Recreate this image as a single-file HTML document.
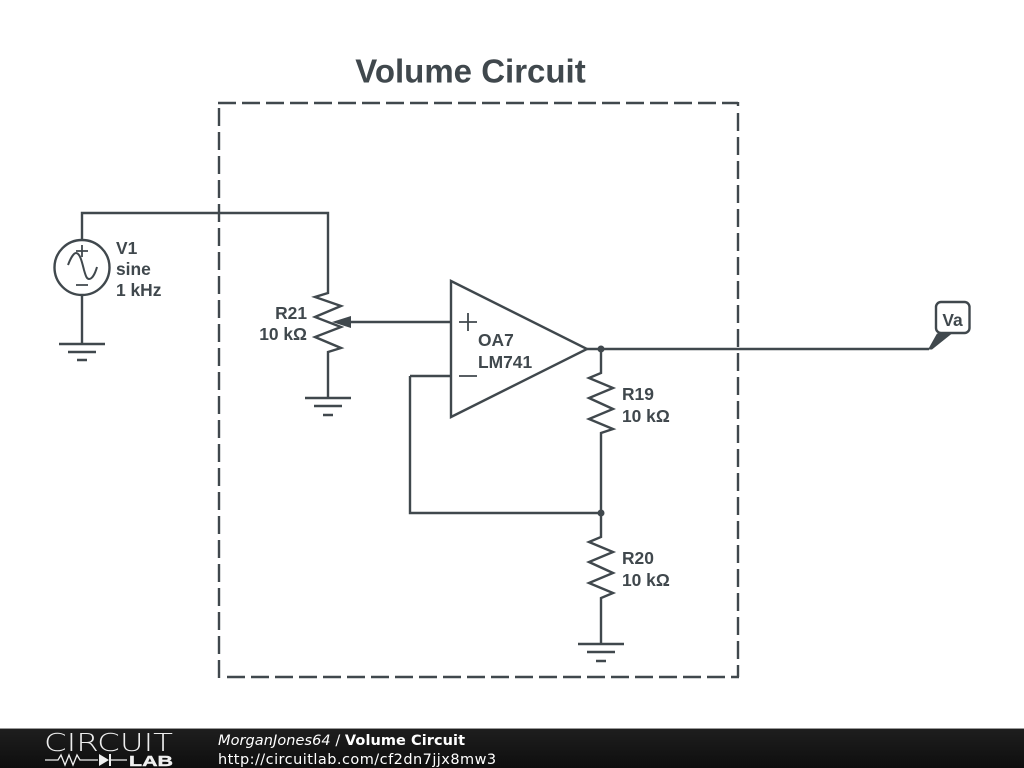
<!DOCTYPE html>
<html>
<head>
<meta charset="utf-8">
<style>
html,body{margin:0;padding:0;background:#fff;width:1024px;height:768px;overflow:hidden}
svg{display:block}
.l{font-family:"Liberation Sans",sans-serif;font-weight:bold;font-size:17.4px;fill:#40484d}
</style>
</head>
<body>
<svg width="1024" height="768" viewBox="0 0 1024 768" xmlns="http://www.w3.org/2000/svg">
<defs>
<linearGradient id="band" x1="0" y1="0" x2="0" y2="1">
<stop offset="0" stop-color="#1e1e1e"/>
<stop offset="1" stop-color="#0e0e0e"/>
</linearGradient>
</defs>
<rect width="1024" height="768" fill="#fff"/>
<text x="470.5" y="82.500" text-anchor="middle" font-family="Liberation Sans,sans-serif" font-weight="bold" font-size="33" fill="#40484d">Volume Circuit</text>
<g fill="none" stroke="#40484d" stroke-width="2.400">
<!-- Dashed frame, drawn side by side to match the dash phase on each edge -->
<path d="M218 103H738" stroke-dasharray="18 6"/>
<path d="M738 102V106"/>
<path d="M738 113V677" stroke-dasharray="18 6"/>
<path d="M739 677H226" stroke-dasharray="18 6" stroke-dashoffset="10"/>
<path d="M219 678V107" stroke-dasharray="18 6"/>
<!-- V1 -->
<path d="M328 291V213H82V240"/>
<circle cx="82" cy="267.500" r="27.500"/>
<path d="M82 295V344"/>
<path d="M59 344H105M68 352H96M77 360H87"/>
<path d="M76 251H88M82 245V257M76 285H88" stroke-width="1.800"/>
<path d="M68 265C71 257 74 253 76 253C80 253 82 262 84 270C86 277 87 279 89 279C92 279 95 274 97 267" stroke-width="2"/>
<!-- R21 -->
<path d="M328 291V293L315 297L341 306L315 317L341 327L315 337L341 348L328 352V398"/>
<path d="M305 398H351M314 406H342M323 415H333"/>
<path d="M345 322H450"/>
<!-- Opamp -->
<path d="M451 281L587 349L451 417Z"/>
<path d="M410 376H451M410 376V513H601"/>
<path d="M459 322H477M468 313V331M459 376H477" stroke-width="1.800"/>
<!-- Output -->
<path d="M587 349H929"/>
<!-- R19 -->
<path d="M601 349V373L589 378L613 388L589 398L613 409L589 419L613 429L601 433V513"/>
<!-- R20 -->
<path d="M601 513V537L589 542L613 552L589 562L613 573L589 583L613 593L601 598V644"/>
<path d="M578 644H624M587 652H615M596 661H606"/>
<!-- Va -->
<rect x="936" y="302" width="33.500" height="31" rx="5"/>
</g>
<path d="M332 322L351 316L351 328Z" fill="#40484d"/>
<path d="M928 349.500L937 333.500H952L932 349.500Z" fill="#40484d"/>
<circle cx="601" cy="349" r="3.500" fill="#40484d"/>
<circle cx="601" cy="513" r="3.500" fill="#40484d"/>
<text class="l" x="116" y="254">V1</text>
<text class="l" x="116" y="275">sine</text>
<text class="l" x="116" y="296">1 kHz</text>
<text class="l" x="307" y="319" text-anchor="end">R21</text>
<text class="l" x="307" y="340" text-anchor="end">10 kΩ</text>
<text class="l" x="478" y="346">OA7</text>
<text class="l" x="478" y="368">LM741</text>
<text class="l" x="622" y="400">R19</text>
<text class="l" x="622" y="422">10 kΩ</text>
<text class="l" x="622" y="564">R20</text>
<text class="l" x="622" y="586">10 kΩ</text>
<text class="l" x="952.500" y="326" text-anchor="middle">Va</text>
<!-- footer -->
<rect x="0" y="729" width="1024" height="39" fill="url(#band)"/>
<rect x="0" y="728" width="1024" height="1" fill="#999"/>
<text x="44" y="751" font-family="DejaVu Sans ExtraLight,DejaVu Sans,sans-serif" font-weight="200" font-size="25" fill="#eeeeee" textLength="129" lengthAdjust="spacingAndGlyphs">CIRCUIT</text>
<path d="M45 760H58L61 755L65 765L69 755L73 765L77 755L80 760H98M110 760H127" fill="none" stroke="#f0f0f0" stroke-width="1.300"/>
<path d="M99 754L109 760L99 766Z" fill="#f0f0f0"/>
<path d="M110 754V766" stroke="#f0f0f0" stroke-width="2"/>
<text x="129" y="766" font-family="Liberation Sans,sans-serif" font-weight="bold" font-size="15" fill="#f0f0f0" stroke="#f0f0f0" stroke-width="0.400" textLength="44" lengthAdjust="spacingAndGlyphs">LAB</text>
<text x="218" y="745" font-family="DejaVu Sans,sans-serif" font-size="14.500" fill="#fff" textLength="247"><tspan font-style="italic">MorganJones64</tspan> / <tspan font-weight="bold">Volume Circuit</tspan></text>
<text x="218" y="764" font-family="DejaVu Sans,sans-serif" font-size="14.500" fill="#fff" letter-spacing="0.460">http://circuitlab.com/cf2dn7jjx8mw3</text>
</svg>
</body>
</html>
